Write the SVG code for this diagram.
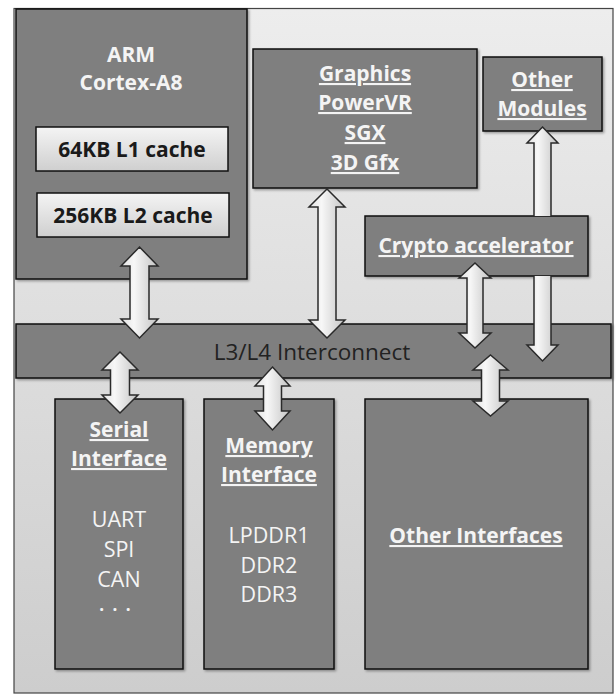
<svg xmlns="http://www.w3.org/2000/svg" width="616" height="695" viewBox="0 0 616 695">
<defs>
<linearGradient id="bg" x1="0" y1="0" x2="0" y2="1">
<stop offset="0" stop-color="#ededed"/>
<stop offset="1" stop-color="#cdcdcd"/>
</linearGradient>
<linearGradient id="cache" x1="0" y1="0" x2="0" y2="1">
<stop offset="0" stop-color="#f4f4f4"/>
<stop offset="1" stop-color="#cfcfcf"/>
</linearGradient>
<linearGradient id="arr" x1="0" y1="0" x2="1" y2="0">
<stop offset="0" stop-color="#e2e2e2"/>
<stop offset="0.35" stop-color="#f7f7f7"/>
<stop offset="1" stop-color="#c4c4c4"/>
</linearGradient>
<filter id="sh" x="-10%" y="-10%" width="120%" height="120%">
<feDropShadow dx="1.5" dy="1.5" stdDeviation="1.2" flood-color="#000" flood-opacity="0.35"/>
</filter>
<mask id="cryptoMask" maskUnits="userSpaceOnUse" x="0" y="0" width="616" height="695">
<rect x="0" y="0" width="616" height="695" fill="#fff"/>
<rect x="365" y="216" width="223" height="60" fill="#000"/>
</mask>
</defs>
<style>
.box{fill:#7f7f7f;stroke:#111;stroke-width:1.5;filter:url(#sh)}
.cbox{fill:url(#cache);stroke:#111;stroke-width:1.5}
.t{font-family:"Open Sans","DejaVu Sans",sans-serif;font-weight:bold;font-size:21px;fill:#f4f4f4;text-anchor:middle}
.u{text-decoration:underline}
.r{font-family:"Open Sans","DejaVu Sans",sans-serif;font-size:21.5px;fill:#f4f4f4;text-anchor:middle}
.ct{font-family:"Open Sans","DejaVu Sans",sans-serif;font-weight:bold;font-size:21px;fill:#1a1a1a;text-anchor:middle}
.ic{font-family:"Open Sans","DejaVu Sans",sans-serif;font-size:22.5px;fill:#222;text-anchor:middle}
.a{fill:url(#arr);stroke:#2a2a2a;stroke-width:1.5;stroke-linejoin:miter}
</style>
<rect id="frame" x="14" y="8.5" width="599" height="684.5" fill="url(#bg)" stroke="#444" stroke-width="1.2"/>
<g id="interconnect">
<rect class="box" x="16" y="324" width="595" height="54"/>
<text class="ic" x="312" y="360">L3/L4 Interconnect</text>
</g>
<g id="serial">
<rect class="box" x="55" y="399" width="128" height="270"/>
<text class="t u" x="119" y="437">Serial</text>
<text class="t u" x="119" y="466">Interface</text>
<text class="r" x="119" y="527">UART</text>
<text class="r" x="119" y="557">SPI</text>
<text class="r" x="119" y="587">CAN</text>
<text class="r" x="116" y="611" style="font-size:17px;font-weight:bold" letter-spacing="2">. . .</text>
</g>
<g id="memory">
<rect class="box" x="204" y="399" width="130" height="270"/>
<text class="t u" x="269" y="453">Memory</text>
<text class="t u" x="269" y="482">Interface</text>
<text class="r" x="269" y="543">LPDDR1</text>
<text class="r" x="269" y="573">DDR2</text>
<text class="r" x="269" y="602">DDR3</text>
</g>
<g id="other-interfaces">
<rect class="box" x="365" y="399" width="223" height="270"/>
<text class="t u" x="476" y="543">Other Interfaces</text>
</g>
<g id="arm">
<rect class="box" x="16" y="9" width="231" height="270"/>
<text class="t" x="131" y="62">ARM</text>
<text class="t" x="131" y="90">Cortex-A8</text>
<g id="l1">
<rect class="cbox" x="36" y="127" width="192" height="44"/>
<text class="ct" x="132" y="157">64KB L1 cache</text>
</g>
<g id="l2">
<rect class="cbox" x="37" y="193" width="192" height="44"/>
<text class="ct" x="133" y="223">256KB L2 cache</text>
</g>
</g>
<g id="graphics">
<rect class="box" x="253" y="49" width="224" height="139"/>
<text class="t u" x="365" y="81">Graphics</text>
<text class="t u" x="365" y="110">PowerVR</text>
<text class="t u" x="365" y="140">SGX</text>
<text class="t u" x="365" y="170">3D Gfx</text>
</g>
<g id="other-modules">
<rect class="box" x="483" y="57" width="119" height="74"/>
<text class="t u" x="542" y="87">Other</text>
<text class="t u" x="542" y="116">Modules</text>
</g>
<g id="crypto">
<rect class="box" x="365" y="216" width="223" height="60"/>
<text class="t u" x="476" y="253">Crypto accelerator</text>
</g>
<g id="connectors">
<path class="a" d="M139.5,247 L158,266 L149,266 L149,319 L158,319 L139.5,338 L121,319 L130,319 L130,266 L121,266 Z"/>
<path class="a" d="M120,352 L138,370 L129.5,370 L129.5,395 L138,395 L120,413 L102,395 L110.5,395 L110.5,370 L102,370 Z"/>
<path class="a" d="M327,189 L345,207 L336,207 L336,320 L345,320 L327,338 L309,320 L318,320 L318,207 L309,207 Z"/>
<path class="a" d="M272.5,367 L290,386 L281.5,386 L281.5,411 L290,411 L272.5,430 L255,411 L263.5,411 L263.5,386 L255,386 Z"/>
<path class="a" d="M542.5,127 L558,143 L551,143 L551,345 L558,345 L542.5,361 L527,345 L534,345 L534,143 L527,143 Z" mask="url(#cryptoMask)"/>
<path class="a" d="M475,263 L491,278 L483,278 L483,333 L491,333 L475,348 L459,333 L467,333 L467,278 L459,278 Z"/>
<path class="a" d="M490.5,355 L508,370 L499.5,370 L499.5,401 L508,401 L490.5,416 L473,401 L481.5,401 L481.5,370 L473,370 Z"/>
</g>
</svg>
